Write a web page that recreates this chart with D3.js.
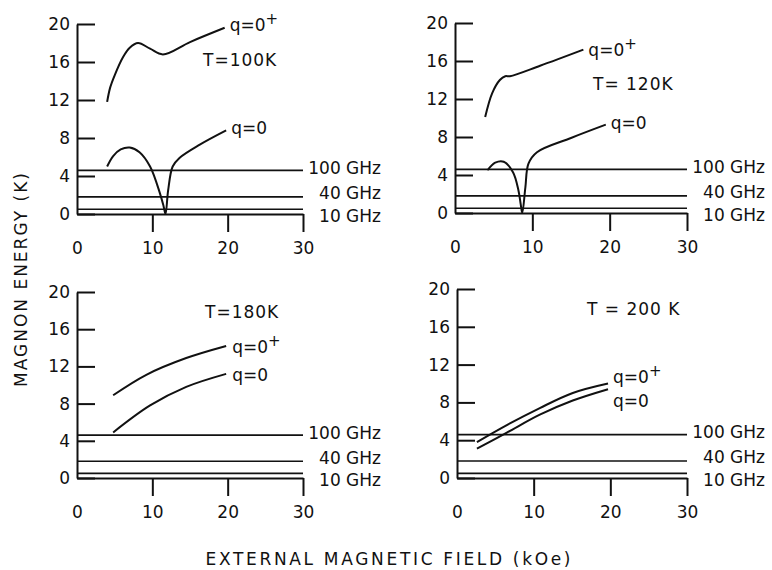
<!DOCTYPE html>
<html>
<head>
<meta charset="utf-8">
<script src="https://cdn.jsdelivr.net/npm/d3@7"></script>
<style>
  html, body { margin: 0; padding: 0; background: #fff; }
  svg { display: block; }
  text { font-family: "DejaVu Sans", sans-serif; fill: #111; }
</style>
</head>
<body>
<svg id="chart" width="772" height="570"></svg>
<script>
// --- DATA ---

const fieldTicks = [0, 10, 20, 30];
const energyTicks = [0, 4, 8, 12, 16, 20];

// microwave quantum levels drawn as horizontal lines (K)
const freqLevels = [4.6, 1.8, 0.5];
const freqNames = ["100 GHz", "40 GHz", "10 GHz"];

const tempLabels = ["T=100K", "T= 120K", "T=180K", "T = 200 K"];

// [field kOe, energy K]
const plus100 = [[4.0, 11.8], [4.4, 13.3], [5.0, 14.6], [6.1, 16.5], [7.0, 17.5], [8.1, 18.0],
                 [9.7, 17.4], [11.4, 16.8], [15.0, 18.1], [19.6, 19.6]];
const zero100 = [[4.0, 5.0], [4.8, 6.1], [5.8, 6.8], [7.0, 7.0], [8.3, 6.5], [9.7, 5.0],
                 [11.0, 2.2], [11.5, 0.8], [11.75, 0.0], [12.1, 2.5], [12.7, 5.0], [13.6, 5.9],
                 [16.3, 7.3], [19.8, 8.8]];

const plus120 = [[3.9, 10.1], [4.8, 12.6], [5.8, 14.0], [6.5, 14.4], [7.1, 14.4], [11.0, 15.5],
                 [16.6, 17.2]];
const zero120 = [[4.2, 4.5], [5.2, 5.3], [6.3, 5.4], [7.5, 4.3], [8.2, 2.4], [8.5, 0.9], [8.7, 0.0],
                 [9.1, 2.7], [9.5, 5.2], [10.6, 6.4], [15.0, 7.9], [19.5, 9.3]];

const plus180 = [[4.8, 8.9], [9.2, 11.1], [14.5, 12.9], [19.8, 14.2]];
const zero180 = [[4.8, 4.9], [9.7, 7.8], [14.5, 9.8], [19.8, 11.2]];

const plus200 = [[2.6, 3.8], [6.5, 5.6], [10.8, 7.4], [15.1, 9.0], [19.7, 10.0]];
const zero200 = [[2.6, 3.1], [6.5, 4.8], [10.8, 6.7], [15.1, 8.2], [19.7, 9.4]];

// --- LAYOUT ---

// pixel frame of each panel, plus where its text sits
const layout = [
    { x: [77, 303], y: [214, 24], temp: [203, 60], plusDy: -3, zeroDy: -2, plusDx: 5, zeroDx: 5 },
    { x: [455, 687], y: [213, 23], temp: [593, 84], plusDy: 0, zeroDy: -2, plusDx: 5, zeroDx: 5 },
    { x: [77, 303], y: [478, 292], temp: [205, 312], plusDy: 1, zeroDy: 1, plusDx: 6, zeroDx: 6 },
    { x: [457, 687], y: [478, 289], temp: [587, 309], plusDy: -7, zeroDy: 12, plusDx: 5, zeroDx: 5 }
];
const curvePairs = [[plus100, zero100], [plus120, zero120], [plus180, zero180], [plus200, zero200]];

const freqLabelDy = [-2.5, -3.5, 7];
const fontSize = 17;

const svg = d3.select("#chart");

// --- DRAW PANELS ---

layout.forEach((L, i) => {
    const x = d3.scaleLinear().domain([0, 30]).range(L.x);
    const y = d3.scaleLinear().domain([0, 20]).range(L.y);
    const g = svg.append("g");

    // y axis: ticks point inward, labels outside
    const yAxis = d3.axisLeft(y)
        .tickValues(energyTicks)
        .tickSizeInner(-18)
        .tickSizeOuter(0)
        .tickPadding(7)
        .tickFormat(d3.format("d"));
    const ya = g.append("g").attr("transform", `translate(${L.x[0]},0)`).call(yAxis);

    // x axis: ticks point down
    const xAxis = d3.axisBottom(x)
        .tickValues(fieldTicks)
        .tickSizeInner(18)
        .tickSizeOuter(0)
        .tickPadding(10)
        .tickFormat(d3.format("d"));
    const xa = g.append("g").attr("transform", `translate(0,${L.y[0]})`).call(xAxis);
    xa.selectAll(".tick line").filter(d => d === 0).remove();

    [ya, xa].forEach(a => {
        a.select(".domain").attr("stroke", "#111").attr("stroke-width", 2);
        a.selectAll(".tick line").attr("stroke", "#111").attr("stroke-width", 2);
        a.selectAll(".tick text")
            .style("font-family", "'DejaVu Sans', sans-serif")
            .attr("font-size", fontSize)
            .attr("fill", "#111");
    });

    // microwave frequency levels
    freqLevels.forEach((lv, k) => {
        g.append("line")
            .attr("x1", x(0)).attr("x2", x(30))
            .attr("y1", y(lv)).attr("y2", y(lv))
            .attr("stroke", "#111").attr("stroke-width", 1.7);
        g.append("text")
            .attr("x", x(30) + 78)
            .attr("y", y(lv) + freqLabelDy[k] + 6)
            .attr("text-anchor", "end")
            .attr("font-size", fontSize)
            .text(freqNames[k]);
    });

    // magnon branches
    const line = d3.line()
        .x(d => x(d[0]))
        .y(d => y(d[1]))
        .curve(d3.curveCatmullRom.alpha(0.5));

    const [plus, zero] = curvePairs[i];
    [plus, zero].forEach(pts => {
        g.append("path")
            .attr("d", line(pts))
            .attr("fill", "none")
            .attr("stroke", "#111")
            .attr("stroke-width", 2);
    });

    // branch labels at the curve ends
    const pEnd = plus[plus.length - 1];
    const pl = g.append("text")
        .attr("x", x(pEnd[0]) + L.plusDx)
        .attr("y", y(pEnd[1]) + L.plusDy + 6)
        .attr("font-size", fontSize);
    pl.append("tspan").text("q=0");
    pl.append("tspan").attr("dy", -7).attr("font-size", 15).text("+");

    const zEnd = zero[zero.length - 1];
    g.append("text")
        .attr("x", x(zEnd[0]) + L.zeroDx)
        .attr("y", y(zEnd[1]) + L.zeroDy + 6)
        .attr("font-size", fontSize)
        .text("q=0");

    // temperature
    g.append("text")
        .attr("x", L.temp[0])
        .attr("y", L.temp[1] + 6)
        .attr("font-size", fontSize)
        .attr("letter-spacing", 1)
        .text(tempLabels[i]);
});

// --- AXIS TITLES ---

svg.append("text")
    .attr("x", 388)
    .attr("y", 565)
    .attr("text-anchor", "middle")
    .attr("font-size", 17)
    .attr("textLength", 365)
    .attr("lengthAdjust", "spacing")
    .text("EXTERNAL MAGNETIC FIELD (kOe)");

svg.append("text")
    .attr("transform", "translate(27,280) rotate(-90)")
    .attr("text-anchor", "middle")
    .attr("font-size", 17)
    .attr("textLength", 214)
    .attr("lengthAdjust", "spacing")
    .text("MAGNON ENERGY (K)");
</script>
</body>
</html>
